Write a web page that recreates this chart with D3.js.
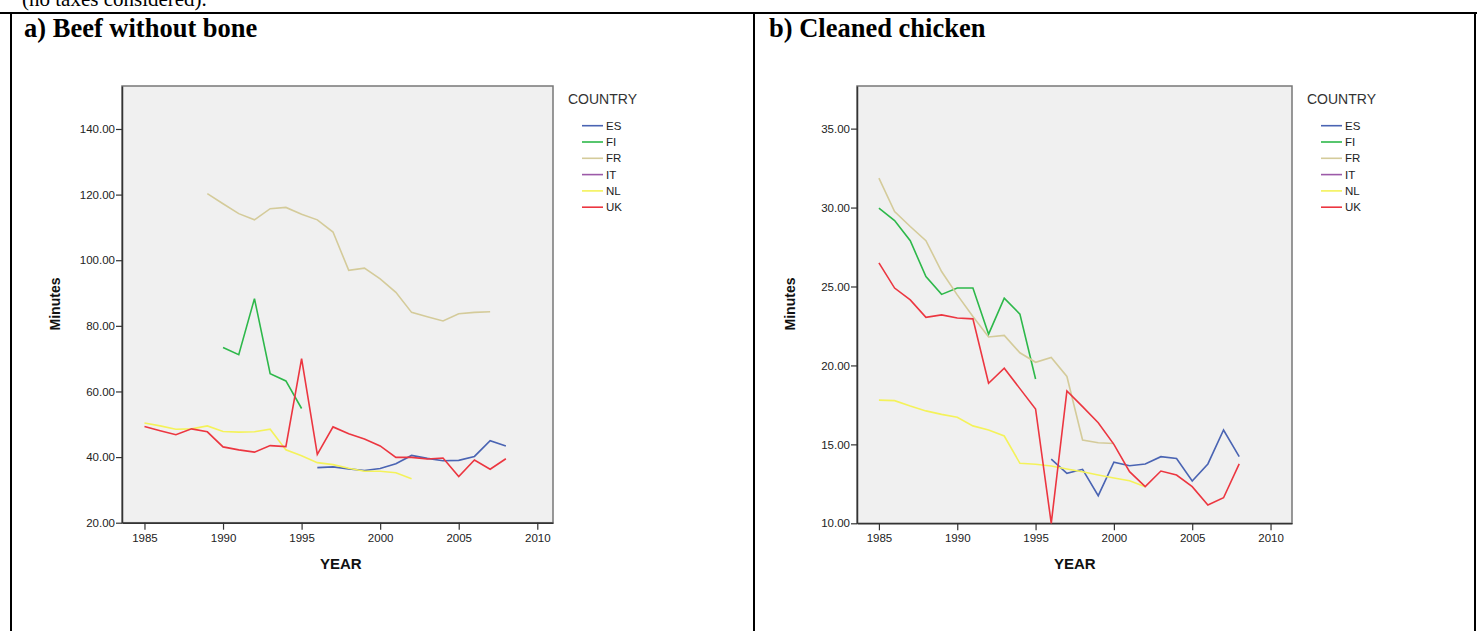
<!DOCTYPE html>
<html>
<head>
<meta charset="utf-8">
<script src="https://cdn.jsdelivr.net/npm/d3@7"></script>
<style>
  body { margin: 0; background: #fff; }
  svg { display: block; }
</style>
</head>
<body>
<div id="chart-area"></div>
<script>
// countries & line colours
var countries = ["ES", "FI", "FR", "IT", "NL", "UK"];
var colors = ["#4a64b3", "#2db84a", "#d4cb9a", "#9c5aa8", "#f4f25a", "#ec3640"];

// a) beef without bone, first year of each series
var beefStart = { ES: 1996, FI: 1990, FR: 1989, IT: null, NL: 1985, UK: 1985 };
var beefES = [36.8, 37.0, 36.4, 35.9, 36.5, 38.0, 40.5, 39.6, 38.9, 39.0, 40.2, 45.0, 43.4];
var beefFI = [73.4, 71.2, 88.3, 65.4, 63.2, 54.8];
var beefFR = [120.3, 117.2, 114.2, 112.3, 115.7, 116.1, 114.0, 112.3, 108.6, 96.9, 97.6, 94.3, 90.2, 84.1, 82.8, 81.5, 83.7, 84.1, 84.3];
var beefIT = [];
var beefNL = [50.4, 49.5, 48.5, 48.6, 49.5, 47.8, 47.6, 47.7, 48.5, 42.2, 40.4, 38.3, 37.7, 36.6, 35.7, 35.7, 35.2, 33.4];
var beefUK = [49.3, 48.0, 46.8, 48.6, 47.7, 43.1, 42.2, 41.5, 43.5, 43.2, 70.0, 40.8, 49.2, 47.1, 45.5, 43.4, 39.9, 39.9, 39.4, 39.7, 34.1, 39.1, 36.3, 39.5];
var beefTicks = [20, 40, 60, 80, 100, 120, 140];

// b) cleaned chicken
var chickenStart = { ES: 1996, FI: 1985, FR: 1985, IT: null, NL: 1985, UK: 1985 };
var chickenES = [14.07, 13.17, 13.42, 11.75, 13.87, 13.65, 13.76, 14.22, 14.1, 12.68, 13.76, 15.91, 14.22];
var chickenFI = [29.96, 29.18, 27.9, 25.63, 24.5, 24.9, 24.9, 21.98, 24.26, 23.25, 19.14];
var chickenFR = [31.86, 29.75, 28.8, 27.9, 25.95, 24.47, 23.1, 21.8, 21.9, 20.8, 20.2, 20.5, 19.3, 15.28, 15.1, 15.05];
var chickenIT = [];
var chickenNL = [17.8, 17.77, 17.43, 17.12, 16.9, 16.72, 16.17, 15.91, 15.53, 13.8, 13.74, 13.63, 13.44, 13.27, 13.06, 12.87, 12.7, 12.32];
var chickenUK = [26.5, 24.9, 24.15, 23.05, 23.2, 23.0, 22.95, 18.87, 19.82, 18.53, 17.24, 10.0, 18.38, 17.39, 16.37, 15.0, 13.27, 12.32, 13.31, 13.06, 12.32, 11.16, 11.62, 13.76];
var chickenTicks = [10, 15, 20, 25, 30, 35];

var yearTicks = [1985, 1990, 1995, 2000, 2005, 2010];

var W = 1477, H = 631;
var svg = d3.select("#chart-area").append("svg")
  .attr("width", W).attr("height", H);

// caption cut off at the top + table borders
svg.append("text")
  .attr("x", 22).attr("y", 6)
  .attr("font-family", "Liberation Serif, Times New Roman, serif")
  .attr("font-size", "21px")
  .text("(no taxes considered).");

svg.append("rect").attr("x", 0).attr("y", 12).attr("width", W).attr("height", 2).attr("fill", "#000");
[10, 753, 1474].forEach(x => {
  svg.append("rect").attr("x", x).attr("y", 12).attr("width", 2).attr("height", H).attr("fill", "#000");
});

function drawPanel(p) {
  var w = p.x1 - p.x0, h = p.y1 - p.y0;

  svg.append("text")
    .attr("x", p.titleX).attr("y", 37)
    .attr("font-family", "Liberation Serif, Times New Roman, serif")
    .attr("font-weight", "bold")
    .attr("font-size", "26.5px")
    .text(p.title);

  var g = svg.append("g").attr("transform", "translate(" + p.x0 + "," + p.y0 + ")");

  var x = d3.scaleLinear().domain(p.xDomain).range([0, w]);
  var y = d3.scaleLinear().domain(p.yDomain).range([h, 0]);

  g.append("rect")
    .attr("width", w).attr("height", h)
    .attr("fill", "#f0f0f0")
    .attr("stroke", "#777").attr("stroke-width", 1.5);

  var yAxisG = g.append("g").call(
    d3.axisLeft(y).tickValues(p.yTicks).tickFormat(d3.format(".2f"))
      .tickSize(6).tickSizeOuter(0).tickPadding(1)
  );
  var xAxisG = g.append("g").attr("transform", "translate(0," + h + ")").call(
    d3.axisBottom(x).tickValues(yearTicks).tickFormat(d3.format("d"))
      .tickSize(7).tickSizeOuter(0).tickPadding(4)
  );
  [yAxisG, xAxisG].forEach(a => {
    a.select(".domain").attr("stroke", "#333").attr("stroke-width", 1.5);
    a.selectAll(".tick line").attr("stroke", "#333").attr("stroke-width", 1.2);
    a.selectAll("text")
      .attr("font-family", "Liberation Sans, Arial, sans-serif")
      .attr("font-size", "11.5px")
      .attr("fill", "#222");
  });

  var line = d3.line()
    .x(d => x(d.year))
    .y(d => y(d.value));

  countries.forEach((c, i) => {
    var vals = p.series[i];
    if (!vals.length) return;
    var pts = vals.map((v, k) => ({ year: p.start[c] + k, value: v }));
    g.append("path")
      .datum(pts)
      .attr("fill", "none")
      .attr("stroke", colors[i])
      .attr("stroke-width", 1.6)
      .attr("d", line);
  });

  // axis titles
  svg.append("text")
    .attr("x", p.x0 + x(1997.5)).attr("y", 569)
    .attr("text-anchor", "middle")
    .attr("font-family", "Liberation Sans, Arial, sans-serif")
    .attr("font-weight", "bold").attr("font-size", "15px")
    .attr("fill", "#111")
    .text("YEAR");

  svg.append("text")
    .attr("transform", "translate(" + (p.x0 - 62) + "," + 304 + ") rotate(-90)")
    .attr("text-anchor", "middle")
    .attr("font-family", "Liberation Sans, Arial, sans-serif")
    .attr("font-weight", "bold").attr("font-size", "14px")
    .attr("fill", "#111")
    .text("Minutes");

  // legend
  var lg = svg.append("g").attr("transform", "translate(" + (p.x1 + 15) + ",0)");
  lg.append("text")
    .attr("x", 0).attr("y", 104)
    .attr("font-family", "Liberation Sans, Arial, sans-serif")
    .attr("font-size", "14px").attr("fill", "#333")
    .text("COUNTRY");
  countries.forEach((c, i) => {
    var yy = 125.7 + i * 16.3;
    lg.append("line")
      .attr("x1", 14).attr("x2", 35).attr("y1", yy).attr("y2", yy)
      .attr("stroke", colors[i]).attr("stroke-width", 1.6);
    lg.append("text")
      .attr("x", 38).attr("y", yy + 4)
      .attr("font-family", "Liberation Sans, Arial, sans-serif")
      .attr("font-size", "11.5px").attr("fill", "#222")
      .text(c);
  });
}

drawPanel({
  title: "a) Beef without bone", titleX: 24,
  x0: 122, x1: 553, y0: 86, y1: 522.7,
  xDomain: [1983.57, 2011.0], yDomain: [20, 153.1], yTicks: beefTicks,
  start: beefStart,
  series: [beefES, beefFI, beefFR, beefIT, beefNL, beefUK]
});

drawPanel({
  title: "b) Cleaned chicken", titleX: 769,
  x0: 857, x1: 1292, y0: 86, y1: 523.3,
  xDomain: [1983.6, 2011.37], yDomain: [10, 37.7], yTicks: chickenTicks,
  start: chickenStart,
  series: [chickenES, chickenFI, chickenFR, chickenIT, chickenNL, chickenUK]
});
</script>
</body>
</html>
